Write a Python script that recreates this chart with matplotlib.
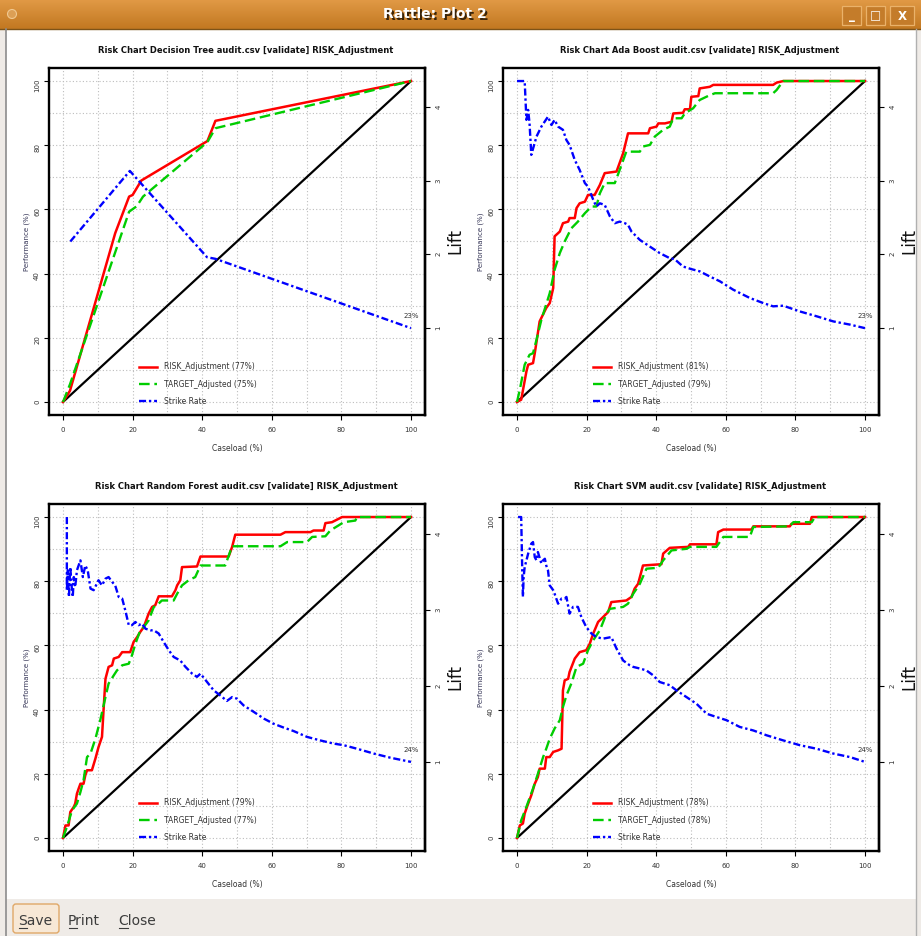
import numpy as np
import matplotlib.pyplot as plt
from matplotlib.patches import Rectangle, FancyBboxPatch, Circle

W, H = 921, 936

# ---- data: (caseload %, performance %) ----
model_names = ["Decision Tree", "Ada Boost", "Random Forest", "SVM"]
risk_area = [77, 81, 79, 78]
target_area = [75, 79, 77, 78]

dt_risk = [(0, 0), (2, 3.5), (15, 52.6), (19, 64), (20, 64.5), (22.5, 69),
           (41.5, 81.3), (43.8, 87.6), (100, 100)]
dt_target = [(0, 0), (2, 5.5), (19, 59.3), (21.2, 61), (23, 64), (41.5, 81),
             (43.8, 85.3), (100, 100)]
dt_strike = [(2.1, 50), (19.2, 72), (41.4, 45.1), (43.8, 44.6), (100, 23.0)]

ada_risk = [(0, 0), (1.2, 0.7), (2.7, 9.5), (3.2, 11.6), (4.6, 12.1), (5.1, 15.2),
            (6.5, 25.1), (8.4, 29.3), (9.4, 30.8), (10.4, 35.5), (10.8, 51.6),
            (12.3, 53.1), (13.2, 55.7), (14.7, 56.2), (15.1, 57.3), (16.6, 57.3),
            (17.1, 60.4), (18.0, 61.9), (19.5, 62.4), (20.4, 64.5), (22.3, 64.5),
            (23.8, 67.6), (25.2, 71.3), (28.6, 71.8), (30.5, 77.5), (31.9, 83.7),
            (37.7, 83.7), (38.2, 85.3), (40.1, 85.8), (40.6, 86.8), (42.5, 86.8),
            (44.4, 87.3), (44.9, 89.9), (47.7, 90.1), (48.2, 91.2), (49.7, 91.2),
            (50.1, 95.1), (52.1, 95.3), (52.5, 97.7), (55.4, 98.2), (56.4, 98.8),
            (73.6, 98.8), (74.6, 99.5), (76.5, 100), (100, 100)]
ada_target = [(0, 0), (0.8, 3.8), (2.2, 11.6), (3.6, 14.7), (4.6, 15.2), (5.6, 19.4),
              (7.0, 25.6), (9.4, 33.9), (10.8, 41.2), (12.3, 46.4), (13.7, 50),
              (15.6, 54.1), (17.5, 56.2), (19.5, 58.8), (21.4, 60.9), (22.8, 60.9),
              (23.8, 65), (25.2, 68.2), (28.1, 68.2), (29.5, 72.3), (31.4, 78),
              (35.3, 78), (36.2, 79.6), (38.2, 80.1), (39.6, 82.7), (42.0, 84.8),
              (43.9, 85.8), (44.9, 88.4), (47.3, 88.4), (48.2, 89.9), (50.6, 91.5),
              (52.5, 94.1), (55.4, 95.6), (56.9, 96.2), (73.6, 96.2), (74.6, 97.2),
              (76.5, 100), (100, 100)]
ada_strike = [(0, 100), (2.2, 100), (2.7, 87.9), (3.2, 91.0), (3.6, 86.8), (4.1, 77.0),
              (5.6, 82.7), (7.0, 85.8), (8.9, 88.9), (9.9, 86.3), (10.8, 87.9),
              (11.8, 85.8), (13.2, 84.8), (14.2, 81.6), (15.1, 80.1), (16.6, 75.4),
              (18.0, 72.3), (19.5, 68.2), (20.4, 67.1), (21.9, 63.0), (22.8, 60.9),
              (23.8, 61.9), (25.2, 61.4), (26.7, 57.8), (28.1, 55.7), (29.5, 56.2),
              (31.0, 55.7), (31.9, 55.2), (32.9, 53.1), (35.3, 50.5), (38.2, 48.4),
              (41.0, 46.4), (43.9, 44.8), (45.3, 44.5), (47.7, 42.2), (50.1, 41.4),
              (52.5, 40.7), (55.4, 39.1), (58.3, 37.6), (62.1, 35.0), (66.9, 32.4),
              (70.8, 30.8), (73.6, 29.8), (76.5, 30.0), (81.3, 28.2), (86.1, 26.7),
              (90.9, 25.1), (95.7, 24.1), (100, 23.0)]

rf_risk = [(0, 0), (0.7, 3.9), (1.6, 3.9), (2.1, 8.1), (3.1, 9.7), (3.5, 10.7),
           (4.0, 13.8), (4.5, 15.4), (5.0, 16.9), (5.9, 16.9), (6.4, 19.5), (6.9, 21.1),
           (8.3, 21.1), (9.3, 24.7), (10.2, 28.3), (11.2, 31.5), (11.7, 40.8),
           (12.2, 49.6), (13.1, 53.3), (14.1, 53.8), (14.6, 55.9), (16.0, 56.4),
           (17.0, 57.9), (19.3, 57.9), (20.3, 61.1), (21.3, 62.6), (22.2, 64.2),
           (23.2, 65.7), (24.6, 69.9), (25.6, 72.0), (26.5, 72.5), (27.5, 75.3),
           (31.3, 75.3), (32.3, 77.2), (32.8, 78.7), (33.7, 80.3), (34.2, 84.4),
           (38.5, 84.6), (39.5, 87.7), (47.6, 87.7), (48.6, 90.7), (49.5, 94.5),
           (62.5, 94.5), (63.9, 95.3), (71.1, 95.3), (72.0, 95.8), (74.9, 95.8),
           (75.4, 98.1), (77.3, 98.4), (80.2, 100), (100, 100)]
rf_target = [(0, 0), (1.1, 3.4), (2.6, 8.6), (4.0, 10.7), (5.0, 14.3), (5.9, 18.0),
             (6.9, 25.2), (7.9, 26.3), (9.3, 30.9), (10.7, 36.7), (12.2, 43.9),
             (13.1, 48.1), (14.6, 50.7), (15.5, 52.2), (17.0, 53.8), (18.9, 54.3),
             (19.8, 56.9), (20.8, 60.5), (22.2, 64.7), (23.2, 65.7), (24.6, 67.8),
             (26.1, 72.0), (27.0, 72.5), (28.4, 74.0), (31.8, 74.0), (32.8, 76.1),
             (34.2, 78.7), (36.1, 80.3), (38.0, 81.3), (39.5, 84.9), (46.6, 84.9),
             (48.6, 90.9), (62.5, 90.9), (64.4, 92.2), (70.1, 92.2), (71.6, 93.8),
             (75.4, 94.0), (76.8, 95.8), (80.7, 98.4), (84.0, 98.9), (84.5, 100),
             (100, 100)]
rf_strike = [(1.1, 100), (1.1, 77.2), (1.4, 83.4), (1.7, 75.1), (2.1, 84.4), (2.4, 79.2),
             (2.8, 75.1), (3.1, 81.3), (3.5, 78.2), (4.0, 83.4), (5.0, 86.5), (5.7, 81.3),
             (6.4, 84.9), (7.1, 83.4), (7.9, 77.7), (8.8, 77.2), (10.2, 80.3),
             (11.2, 78.7), (12.2, 80.8), (13.1, 81.3), (14.1, 79.8), (15.0, 78.7),
             (16.0, 75.1), (17.0, 74.6), (17.9, 70.9), (18.9, 66.3), (19.8, 66.3),
             (20.8, 67.3), (21.7, 66.3), (22.7, 66.8), (23.7, 65.2), (25.1, 64.7),
             (26.1, 64.7), (27.5, 63.7), (28.9, 61.1), (30.4, 58.5), (31.8, 56.4),
             (33.7, 55.3), (35.2, 53.3), (37.1, 51.2), (38.5, 50.2), (39.5, 51.2),
             (41.4, 48.6), (43.3, 46.0), (45.2, 44.4), (47.1, 42.7), (48.6, 43.9),
             (50.0, 43.4), (51.9, 41.3), (54.8, 39.3), (57.7, 37.2), (60.5, 35.6),
             (63.4, 34.4), (66.3, 33.3), (70.1, 31.5), (73.9, 30.4), (77.8, 29.4),
             (80.7, 28.9), (84.5, 27.8), (89.3, 26.3), (94.1, 25.0), (100, 23.7)]

svm_risk = [(0, 0), (0.8, 3.9), (1.7, 4.5), (2.2, 7.6), (3.2, 10.7), (4.1, 13.3),
            (5.1, 16.9), (6.0, 19.0), (6.5, 21.6), (8.0, 21.6), (8.4, 25.2), (9.4, 25.2),
            (10.4, 26.8), (11.8, 27.3), (12.8, 27.8), (13.2, 46.0), (13.7, 49.1),
            (14.7, 49.6), (15.1, 51.7), (16.6, 55.9), (18.0, 57.9), (19.9, 58.5),
            (20.9, 60.5), (21.9, 63.7), (23.3, 67.3), (24.7, 68.8), (26.2, 70.4),
            (27.1, 73.5), (31.4, 74.0), (32.9, 75.1), (33.8, 77.7), (34.8, 79.2),
            (36.2, 84.9), (41.5, 85.3), (42.0, 88.6), (43.9, 90.4), (49.2, 90.7),
            (49.7, 91.5), (57.3, 91.5), (57.8, 95.3), (59.3, 96.1), (67.4, 96.1),
            (67.9, 97.1), (78.4, 97.1), (78.9, 97.9), (84.2, 97.9), (84.7, 100),
            (100, 100)]
svm_target = [(0, 0), (1.2, 5.5), (2.7, 9.7), (4.6, 15.4), (6.0, 20.0), (7.5, 25.2),
              (8.4, 27.8), (9.4, 30.9), (10.8, 34.1), (12.3, 36.7), (13.2, 40.8),
              (14.2, 44.4), (15.6, 48.1), (17.1, 53.3), (19.0, 54.3), (20.4, 58.5),
              (21.9, 61.6), (23.8, 64.7), (25.7, 69.9), (26.7, 71.4), (30.5, 72.0),
              (31.9, 73.0), (33.4, 76.1), (35.3, 79.2), (37.2, 83.9), (40.6, 84.2),
              (42.0, 86.5), (44.4, 89.6), (48.7, 90.1), (49.7, 90.7), (57.3, 90.7),
              (59.3, 93.8), (66.9, 93.8), (67.9, 96.9), (78.4, 97.1), (79.4, 98.4),
              (84.7, 98.4), (85.6, 100), (100, 100)]
svm_strike = [(0.3, 100), (1.2, 100), (1.5, 83.4), (1.7, 75.1), (1.9, 81.3), (2.2, 84.4),
              (3.2, 88.6), (4.1, 91.7), (4.6, 92.2), (5.1, 87.5), (5.6, 86.5),
              (6.0, 89.1), (7.0, 85.5), (7.5, 86.5), (8.0, 87.0), (8.4, 84.9),
              (8.9, 83.4), (9.4, 78.7), (10.4, 77.2), (10.8, 76.1), (11.8, 73.0),
              (12.8, 74.6), (13.7, 74.6), (14.2, 75.1), (15.1, 69.9), (16.1, 72.0),
              (17.5, 72.0), (18.5, 68.8), (19.9, 65.7), (21.4, 63.7), (22.8, 62.6),
              (24.7, 62.1), (27.1, 62.6), (28.6, 59.0), (30.5, 55.3), (32.4, 53.8),
              (33.4, 53.3), (35.3, 52.8), (37.2, 52.2), (39.1, 50.7), (41.0, 48.6),
              (43.9, 47.6), (45.8, 46.0), (48.7, 43.9), (51.6, 41.8), (54.5, 38.7),
              (57.3, 37.7), (60.2, 36.7), (64.0, 34.6), (67.9, 33.5), (71.7, 32.0),
              (76.5, 30.4), (81.3, 28.9), (86.1, 27.8), (90.9, 26.3), (95.7, 25.2),
              (100, 23.7)]

lift_ticks = [1, 2, 3, 4]

# pixel boxes of the four plot regions (left, top)
AX_W, AX_H = 375.8, 346.6
panel_pos = [(49.1, 68.2), (503.1, 68.2), (49.1, 504.2), (503.1, 504.2)]

TXT = "#333333"


def risk_panel(ax, name, risk, target, strike, ra, ta):
    risk, target, strike = np.array(risk), np.array(target), np.array(strike)
    rate = strike[-1, 1]

    ax.set_xlim(-4, 104)
    ax.set_ylim(-4, 104)
    ax.set_xticks(np.arange(0, 101, 20))
    ax.set_yticks(np.arange(0, 101, 20))
    ax.set_xticks(np.arange(0, 101, 10), minor=True)
    ax.set_yticks(np.arange(0, 101, 10), minor=True)
    ax.grid(which="both", linestyle=(0, (1, 2)), color="#bdbdbd", linewidth=0.8)
    ax.set_axisbelow(True)
    ax.tick_params(which="minor", length=0)
    ax.tick_params(which="major", direction="out", length=3.5, width=0.8,
                   labelsize=5, labelcolor=TXT)
    ax.tick_params(axis="x", pad=5)
    ax.tick_params(axis="y", pad=3, labelrotation=90)
    for s in ax.spines.values():
        s.set_linewidth(1.7)

    ax.plot([0, 100], [0, 100], color="black", lw=1.6)
    ax.plot(risk[:, 0], risk[:, 1], color="#ff0000", lw=1.8,
            label=f"RISK_Adjustment ({ra}%)")
    ax.plot(target[:, 0], target[:, 1], color="#00cd00", lw=1.7,
            linestyle=(0, (4.5, 2)), label=f"TARGET_Adjusted ({ta}%)")
    ax.plot(strike[:, 0], strike[:, 1], color="#0000ff", lw=1.7,
            linestyle=(0, (3, 1.2, 1, 1.2)), label="Strike Rate")

    ax.annotate(f"{rate:.0f}%", xy=(strike[-1, 0], rate), xytext=(0, 8.5),
                textcoords="offset points", ha="center", va="center",
                fontsize=5, color=TXT)

    ax.legend(loc="lower left", bbox_to_anchor=(0.24, 0.025), frameon=False,
              fontsize=5.5, handlelength=2.3, handletextpad=0.9,
              labelspacing=1.1, borderpad=0, borderaxespad=0, labelcolor=TXT)

    ax.set_title(f"Risk Chart {name} audit.csv [validate] RISK_Adjustment",
                 fontsize=6, fontweight="bold", x=0.524, pad=11, color="#111111")
    ax.set_xlabel("Caseload (%)", fontsize=5.5, color=TXT, labelpad=8)
    ax.set_ylabel("Performance (%)", fontsize=5, color="#333355", labelpad=3)

    sec = ax.secondary_yaxis("right", functions=(lambda p: p / rate,
                                                 lambda l: l * rate))
    sec.set_yticks(lift_ticks)
    sec.tick_params(direction="out", length=3.5, width=0.8, labelsize=5,
                    labelcolor=TXT, pad=4, labelrotation=90)
    sec.spines["right"].set_linewidth(1.7)
    sec.set_ylabel("Lift", fontsize=12, color="#111111", labelpad=4)


fig = plt.figure(figsize=(W / 100, H / 100), dpi=100, facecolor="#efebe7")

# ---- window chrome ----
bg = fig.add_axes([0, 0, 1, 1], zorder=-5)
bg.set_xlim(0, W)
bg.set_ylim(H, 0)
bg.axis("off")

top_col = np.array([0.88, 0.60, 0.27])
bot_col = np.array([0.76, 0.47, 0.13])
grad = np.linspace(0, 1, 40)[:, None, None] * (bot_col - top_col) + top_col
bg.imshow(np.repeat(grad, 2, axis=1), extent=[0, W, 29, 0], aspect="auto")
bg.plot([0, W], [29, 29], color="#7d5318", lw=1)
bg.add_patch(Circle((12, 14), 4.5, facecolor="#dc9f55", edgecolor="#f0c890", lw=0.8))
bg.text(436.5, 15.5, "Rattle: Plot 2", color="#3a2408", fontsize=10,
        fontweight="bold", ha="center", va="center")
bg.text(435, 14.5, "Rattle: Plot 2", color="white", fontsize=10,
        fontweight="bold", ha="center", va="center")
for bx, bw, glyph in [(842, 19, "_"), (866, 19, "□"), (890, 24, "X")]:
    bg.add_patch(Rectangle((bx, 6), bw, 19, facecolor="#c47c2a",
                           edgecolor="#eab26a", lw=0.9))
    bg.text(bx + bw / 2, 16, glyph, color="white", fontsize=8.5,
            fontweight="bold", ha="center", va="center")

bg.add_patch(Rectangle((6, 29), 910, 870, facecolor="white", edgecolor="none"))
bg.plot([6, 6], [29, H], color="#8c8c8c", lw=1.2)
bg.plot([916, 916], [29, H], color="#b0b0b0", lw=1.0)

bg.add_patch(FancyBboxPatch((13, 904), 46, 29, boxstyle="round,pad=0,rounding_size=3",
                            facecolor="#f7e8d6", edgecolor="#e0a868", lw=1.0))
for tx, label, ul in [(18, "Save", 8), (68, "Print", 8), (118, "Close", 9)]:
    bg.text(tx, 925, label, fontsize=10, color="#3c3c3c", ha="left", va="baseline")
    bg.plot([tx + 1, tx + 1 + ul], [928, 928], color="#3c3c3c", lw=0.8)

# ---- the four risk charts ----
panels = [
    (dt_risk, dt_target, dt_strike),
    (ada_risk, ada_target, ada_strike),
    (rf_risk, rf_target, rf_strike),
    (svm_risk, svm_target, svm_strike),
]
for i, (r, t, s) in enumerate(panels):
    left, top = panel_pos[i]
    ax = fig.add_axes([left / W, 1 - (top + AX_H) / H, AX_W / W, AX_H / H])
    ax.set_facecolor("white")
    risk_panel(ax, model_names[i], r, t, s, risk_area[i], target_area[i])

fig.savefig("out.png", dpi=100, facecolor=fig.get_facecolor())
